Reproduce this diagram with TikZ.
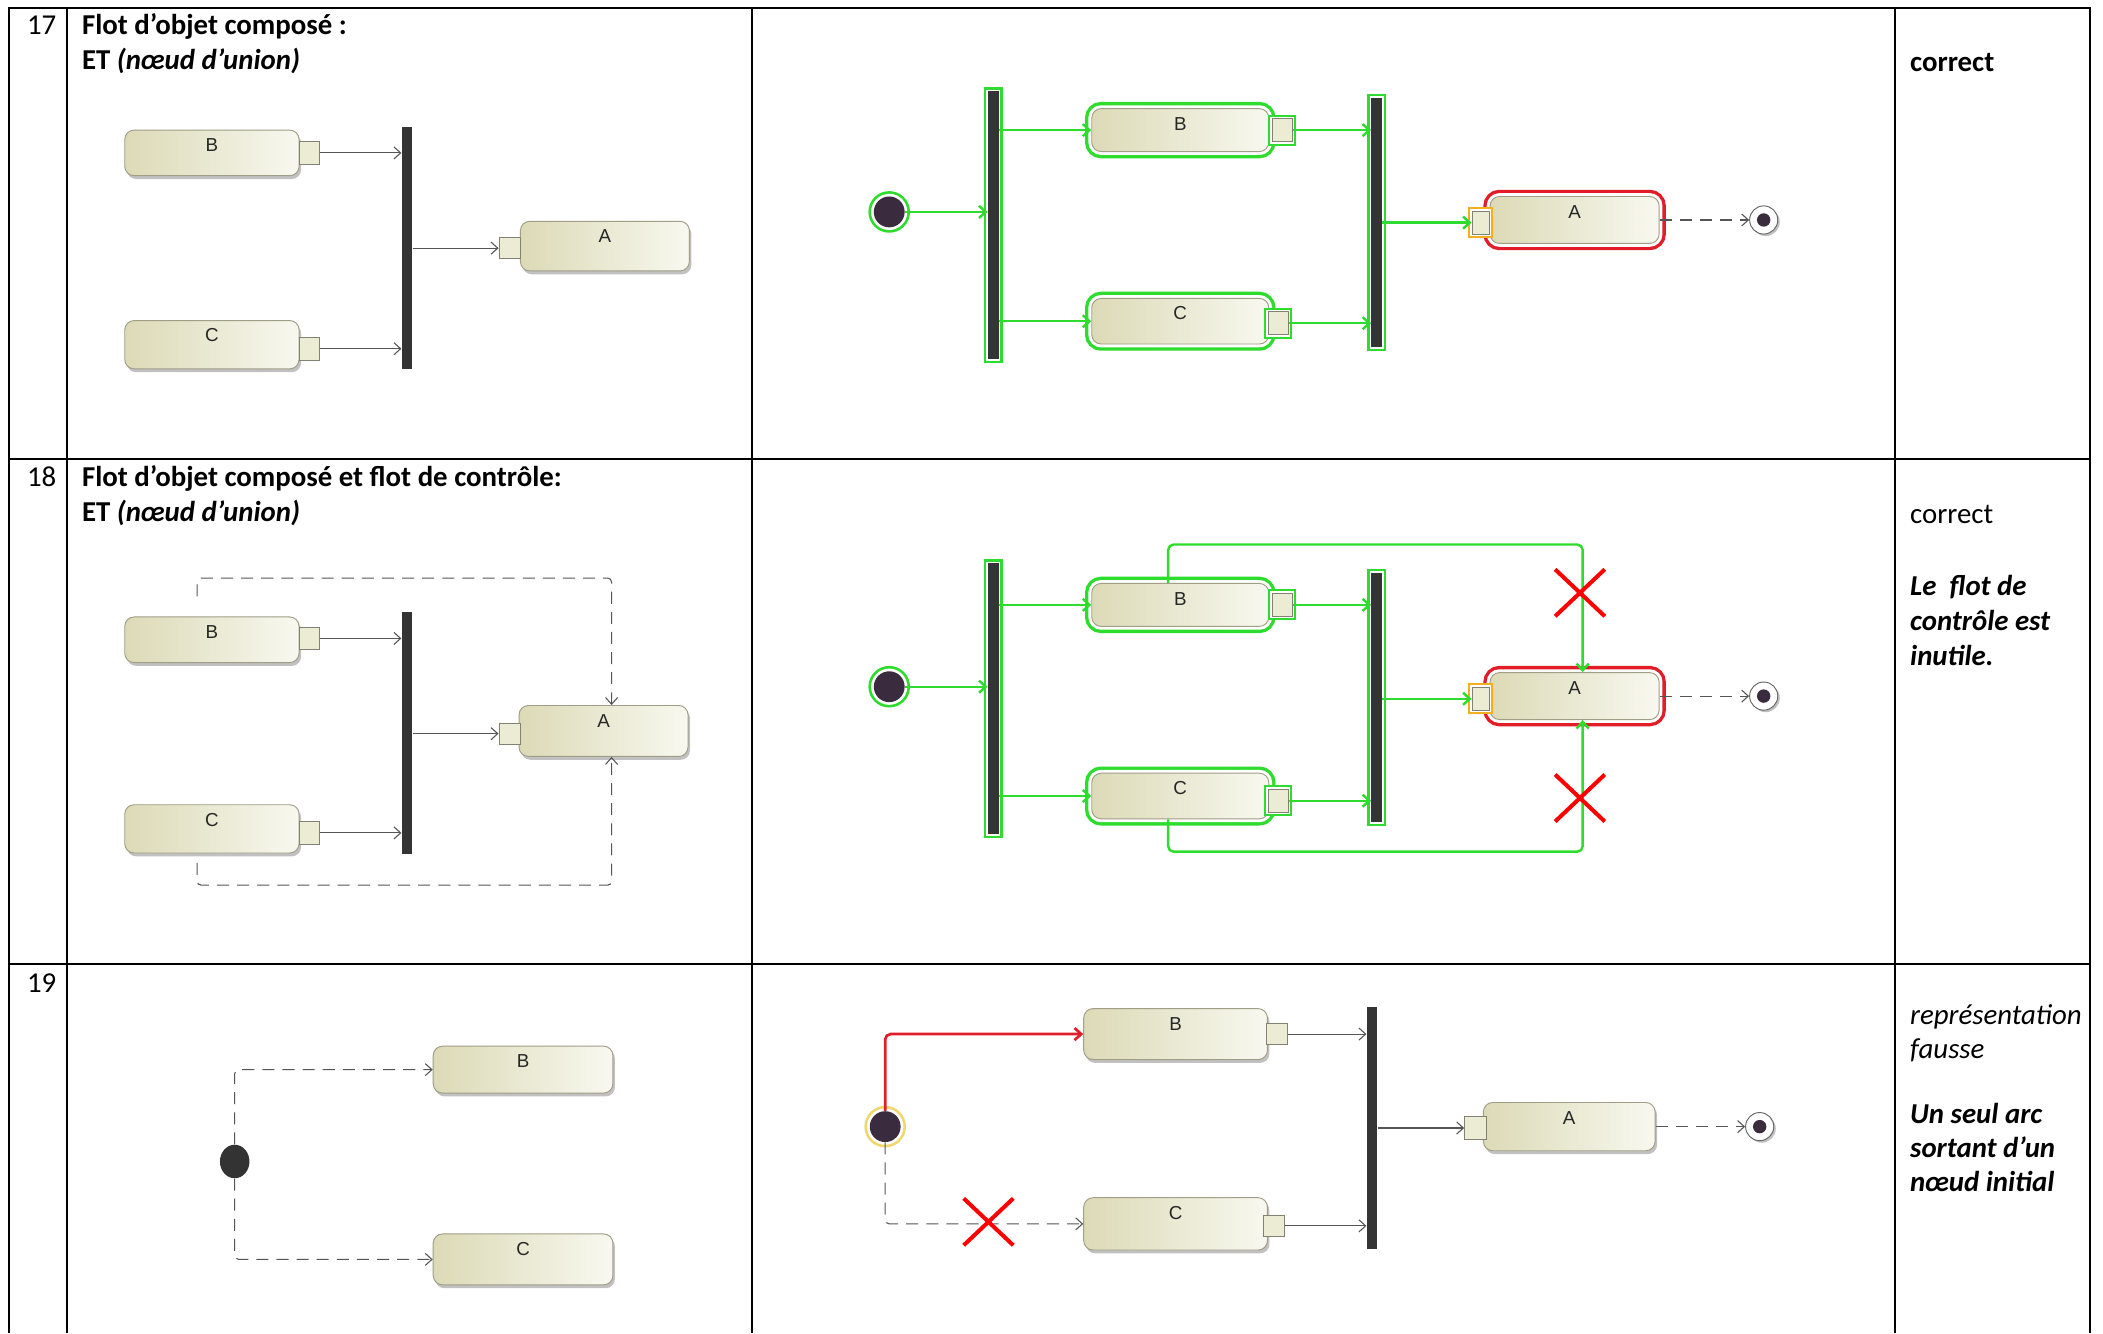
\documentclass[tikz,border=0pt]{standalone}
\usepackage{fontspec}
\setmainfont{Carlito}
\newfontfamily\boxfont{Liberation Sans}
\usetikzlibrary{arrows.meta,shadows,shapes.misc,shapes.geometric}
\definecolor{boxl}{RGB}{220,218,182}
\definecolor{boxr}{RGB}{248,248,240}
\definecolor{boxb}{RGB}{160,158,135}
\definecolor{pinf}{RGB}{236,235,212}
\definecolor{pinb}{RGB}{130,130,115}
\definecolor{barc}{RGB}{52,52,52}
\definecolor{hlg}{RGB}{45,220,45}
\definecolor{hlr}{RGB}{225,30,40}
\definecolor{hlo}{RGB}{245,175,30}
\definecolor{hly}{RGB}{240,215,110}
\definecolor{initc}{RGB}{58,44,62}
\definecolor{linec}{RGB}{85,85,85}
\definecolor{xred}{RGB}{255,0,0}
\begin{document}
\begin{tikzpicture}[x=1pt,y=-1pt,
  objbox/.style 2 args={rounded corners=7pt, draw=boxb, line width=0.7pt,
    left color=boxl, right color=boxr, inner sep=0pt,
    minimum width=#1pt, minimum height=#2pt,
    drop shadow={shadow xshift=1.5pt,shadow yshift=-2.5pt,fill=black!40,opacity=0.6}},
  hlbox/.style={preaction={draw=#1,line width=10pt}, preaction={draw=white,line width=5pt}},
  boxlbl/.style={font=\boxfont\fontsize{14}{16}\selectfont, yshift=-20pt, text=black!85},
  pin/.style={draw=pinb, fill=pinf, line width=0.6pt, inner sep=0pt, minimum width=15pt, minimum height=17pt},
  hlpin/.style={preaction={draw=#1,line width=6pt}, preaction={draw=white,line width=3pt}},
  bar/.style={fill=barc, inner sep=0pt, minimum width=8pt, minimum height=#1pt},
  hlbar/.style={preaction={draw=hlg,line width=6pt}, preaction={draw=white,line width=2.5pt}},
  initnode/.style={circle, fill=initc, inner sep=0pt, minimum size=23pt},
  hlinit/.style={preaction={draw=#1,line width=8pt}, preaction={draw=white,line width=4pt}},
  finalnode/.style={circle, draw=black!60, fill=white, line width=0.7pt, inner sep=0pt, minimum size=21pt,
    drop shadow={shadow xshift=1.5pt,shadow yshift=-1.5pt,fill=black!40,opacity=0.6}},
  flow/.style={draw=linec, line width=0.8pt, -{Straight Barb[length=5pt,width=9pt]}},
  gflow/.style={draw=hlg, line width=1.8pt, -{Straight Barb[length=5pt,width=9pt]}},
  dflow/.style={flow, dash pattern=on 9pt off 6pt},
  xmark/.style={cross out, draw=xred, line width=3pt, inner sep=0pt, minimum width=34pt, minimum height=32pt},
  grid/.style={line width=1.6pt, black},
  txt/.style={anchor=base west, inner sep=0pt, font=\fontsize{21.5}{26}\selectfont},
  btxt/.style={txt, font=\fontsize{21.5}{26}\selectfont\bfseries},
  itxt/.style={txt, font=\fontsize{21.5}{26}\selectfont\itshape},
  bitxt/.style={txt, font=\fontsize{21.5}{26}\selectfont\bfseries\itshape},
]
\useasboundingbox (0,0) rectangle (1568,994);
\path[fill=white] (0,0) rectangle (1568,994);
% table
\draw[grid] (7,994) -- (7,6) -- (1558,6) -- (1558,994);
\draw[grid] (50,6) -- (50,994);
\draw[grid] (561,6) -- (561,994);
\draw[grid] (1413,6) -- (1413,994);
\draw[grid] (7,342) -- (1558,342);
\draw[grid] (7,719) -- (1558,719);

% texts
\node[txt] (n17) at (20,26) {17};
\node[btxt] (t17a) at (61,26) {Flot d’objet composé :};
\node[btxt] (t17b) at (61,52) {ET \textit{(nœud d’union)}};
\node[btxt] (r17) at (1424,53) {correct};

\node[txt] (n18) at (20,363) {18};
\node[btxt] (t18a) at (61,363) {Flot d’objet composé et flot de contrôle:};
\node[btxt] (t18b) at (61,389) {ET \textit{(nœud d’union)}};
\node[txt] (r18a) at (1424,390) {correct};
\node[bitxt] (r18b) at (1424,444) {Le\ \ flot de};
\node[bitxt] (r18c) at (1424,470) {contrôle est};
\node[bitxt] (r18d) at (1424,496) {inutile.};

\node[txt] (n19) at (20,740) {19};
\node[itxt] (r19a) at (1424,764) {représentation};
\node[itxt] (r19b) at (1424,789) {fausse};
\node[bitxt] (r19c) at (1424,838) {Un seul arc};
\node[bitxt] (r19d) at (1424,863) {sortant d’un};
\node[bitxt] (r19e) at (1424,888) {nœud initial};

%% ---------- row 17 left
\node[objbox={130}{34}, label={[boxlbl]north:B}] (B1) at (158,114) {};
\node[pin] (B1p) at (230.5,114) {};
\node[objbox={130}{36}, label={[boxlbl]north:C}] (C1) at (158,257) {};
\node[pin] (C1p) at (230.5,260) {};
\node[bar=180] (bar1) at (303.5,185) {};
\node[objbox={126}{37}, label={[boxlbl]north:A}] (A1) at (451,183.5) {};
\node[pin, minimum width=16pt, minimum height=16pt] (A1p) at (380,185) {};
\draw[flow] (B1p.east) -- (B1p.east -| bar1.west);
\draw[flow] (C1p.east) -- (C1p.east -| bar1.west);
\draw[flow] (bar1.east |- A1p.west) -- (A1p.west);

%% ---------- row 17 middle
\node[initnode, hlinit=hlg] (I2) at (663,158) {};
\node[bar=200, hlbar] (F2) at (740.5,168) {};
\node[objbox={132}{32}, hlbox=hlg, label={[boxlbl]north:B}] (B2) at (880,97) {};
\node[pin, hlpin=hlg] (B2p) at (956,97) {};
\node[objbox={132}{34}, hlbox=hlg, label={[boxlbl]north:C}] (C2) at (880,239.5) {};
\node[pin, hlpin=hlg] (C2p) at (953,241) {};
\node[bar=186, hlbar] (J2) at (1026.5,166) {};
\node[objbox={126}{35}, hlbox=hlr, label={[boxlbl]north:A}] (A2) at (1174,164) {};
\node[pin, hlpin=hlo, minimum width=13pt] (A2p) at (1104,166) {};
\node[finalnode] (E2) at (1315,164) {};
\fill[initc] (E2.center) circle (5pt);
\draw[gflow] (I2.east) -- (I2.east -| F2.west);
\draw[gflow] (B2.west -| F2.east) -- (B2.west);
\draw[gflow] (C2.west -| F2.east) -- (C2.west);
\draw[gflow] (B2p.east) -- (B2p.east -| J2.west);
\draw[gflow] (C2p.east) -- (C2p.east -| J2.west);
\draw[gflow] (J2.east |- A2p.west) -- (A2p.west);
\draw[dflow] (A2.east) -- (E2.west);

%% ---------- row 18 left
\node[objbox={130}{34}, label={[boxlbl]north:B}] (B3) at (158,477) {};
\node[pin] (B3p) at (230.5,476) {};
\node[objbox={130}{36}, label={[boxlbl]north:C}] (C3) at (158,618) {};
\node[pin] (C3p) at (230.5,621) {};
\node[bar=181] (bar3) at (303.5,546.5) {};
\node[objbox={126}{38}, label={[boxlbl]north:A}] (A3) at (450,545) {};
\node[pin, minimum width=16pt, minimum height=16pt] (A3p) at (380,547) {};
\draw[flow] (B3p.east) -- (B3p.east -| bar3.west);
\draw[flow] (C3p.east) -- (C3p.east -| bar3.west);
\draw[flow] (bar3.east |- A3p.west) -- (A3p.west);
\coordinate (k3t) at (456,431);
\coordinate (k3b) at (456,660);
\draw[dflow, rounded corners=3pt] ([xshift=-11pt,yshift=15pt]B3.north) |- (k3t) -- ([xshift=6pt]A3.north);
\draw[dflow, rounded corners=3pt] ([xshift=-11pt,yshift=-7pt]C3.south) |- (k3b) -- ([xshift=6pt]A3.south);

%% ---------- row 18 middle
\node[initnode, hlinit=hlg] (I4) at (663,512) {};
\node[bar=202, hlbar] (F4) at (740.5,521) {};
\node[objbox={132}{32}, hlbox=hlg, label={[boxlbl]north:B}] (B4) at (880,451) {};
\node[pin, hlpin=hlg] (B4p) at (956,451) {};
\node[objbox={132}{34}, hlbox=hlg, label={[boxlbl]north:C}] (C4) at (880,593.5) {};
\node[pin, hlpin=hlg] (C4p) at (953,597) {};
\node[bar=186, hlbar] (J4) at (1026.5,520) {};
\node[objbox={126}{35}, hlbox=hlr, label={[boxlbl]north:A}] (A4) at (1174,519) {};
\node[pin, hlpin=hlo, minimum width=13pt] (A4p) at (1104,521) {};
\node[finalnode] (E4) at (1315,519) {};
\fill[initc] (E4.center) circle (5pt);
\draw[gflow] (I4.east) -- (I4.east -| F4.west);
\draw[gflow] (B4.west -| F4.east) -- (B4.west);
\draw[gflow] (C4.west -| F4.east) -- (C4.west);
\draw[gflow] (B4p.east) -- (B4p.east -| J4.west);
\draw[gflow] (C4p.east) -- (C4p.east -| J4.west);
\draw[gflow] (J4.east |- A4p.west) -- (A4p.west);
\draw[dflow] (A4.east) -- (E4.west);
\coordinate (k4t) at (1180,406);
\coordinate (k4b) at (1180,635);
\draw[gflow, rounded corners=4pt] ([xshift=-9pt]B4.north) |- (k4t) -- ([xshift=6pt]A4.north);
\draw[gflow, rounded corners=4pt] ([xshift=-9pt]C4.south) |- (k4b) -- ([xshift=6pt]A4.south);
\node[xmark] (X4a) at (1178,442) {};
\node[xmark] (X4b) at (1178,595) {};

%% ---------- row 19 left
\node[ellipse, fill=black!80, inner sep=0pt, minimum width=22pt, minimum height=25pt] (I5) at (175,866) {};
\node[objbox={134}{35}, label={[boxlbl]north:B}] (B5) at (390,797.5) {};
\node[objbox={134}{38}, label={[boxlbl]north:C}] (C5) at (390,939) {};
\draw[dflow, rounded corners=3pt] (I5.north) |- (B5.west);
\draw[dflow, rounded corners=3pt] (I5.south) |- (C5.west);

%% ---------- row 19 middle
\node[initnode, hlinit=hly] (I6) at (660,840) {};
\node[objbox={137}{38}, label={[boxlbl]north:B}] (B6) at (876.5,771) {};
\node[pin, minimum width=16pt, minimum height=16pt] (B6p) at (952,771) {};
\node[objbox={137}{39}, label={[boxlbl]north:C}] (C6) at (876.5,912.5) {};
\node[pin, minimum width=16pt, minimum height=16pt] (C6p) at (950,914) {};
\node[bar=180] (bar6) at (1023,841) {};
\node[objbox={128}{36}, label={[boxlbl]north:A}] (A6) at (1170,840) {};
\node[pin, minimum width=16pt, minimum height=17pt] (A6p) at (1100,841) {};
\node[finalnode] (E6) at (1312,840) {};
\fill[initc] (E6.center) circle (5pt);
\draw[flow, draw=hlr, line width=2pt, rounded corners=4pt] (I6.north) |- (B6.west);
\draw[dflow, rounded corners=3pt] (I6.south) |- (C6.west);
\draw[flow] (B6p.east) -- (B6p.east -| bar6.west);
\draw[flow] (C6p.east) -- (C6p.east -| bar6.west);
\draw[flow] (bar6.east |- A6p.west) -- (A6p.west);
\draw[dflow] (A6.east) -- (E6.west);
\node[xmark] (X6) at (737,911) {};
\end{tikzpicture}
\end{document}
